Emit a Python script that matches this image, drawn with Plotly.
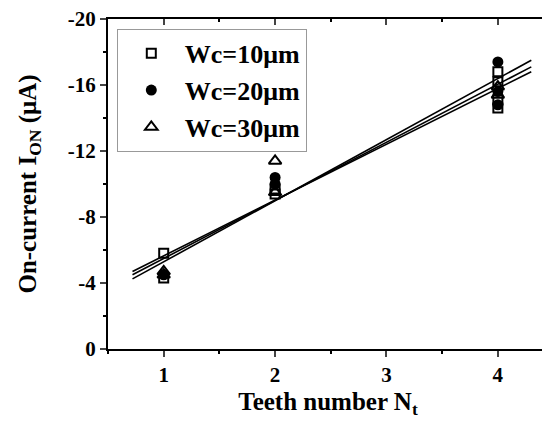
import plotly.graph_objects as go

# ---- data ----
x_ticks = [1, 2, 3, 4]
x_labels = ["1", "2", "3", "4"]
y_ticks = [0, -4, -8, -12, -16, -20]
y_labels = ["0", "-4", "-8", "-12", "-16", "-20"]

wc10_x = [1, 1, 2, 2, 4, 4, 4, 4]
wc10_y = [-5.8, -4.3, -9.7, -9.4, -16.8, -16.2, -15.1, -14.6]

wc20_x = [1, 2, 2, 4, 4, 4]
wc20_y = [-4.5, -10.4, -10.0, -17.4, -15.6, -14.8]

wc30_x = [1, 1, 2, 2, 4, 4]
wc30_y = [-4.7, -4.5, -11.4, -9.5, -15.9, -15.4]

fit_x = [0.72, 4.3]
fit_a = [-4.25, -17.5]
fit_b = [-4.5, -17.1]
fit_c = [-4.7, -16.8]

FONT = "Liberation Serif"

fig = go.Figure()

for fy in (fit_a, fit_b, fit_c):
    fig.add_trace(go.Scatter(x=fit_x, y=fy, mode="lines",
                             line=dict(color="black", width=1.6),
                             showlegend=False, hoverinfo="skip"))

fig.add_trace(go.Scatter(x=wc10_x, y=wc10_y, mode="markers", name="Wc=10μm",
                         legendgroup="a",
                         marker=dict(symbol="square-open", size=9, color="black",
                                     line=dict(width=2, color="black"))))
fig.add_trace(go.Scatter(x=wc20_x, y=wc20_y, mode="markers", name="Wc=20μm",
                         legendgroup="b",
                         marker=dict(symbol="circle", size=11, color="black")))
fig.add_trace(go.Scatter(x=wc30_x, y=wc30_y, mode="markers", name="Wc=30μm",
                         legendgroup="c",
                         marker=dict(symbol="triangle-up-open", size=11, color="black",
                                     line=dict(width=2, color="black"))))

# invisible trace on overlay axes so they render
fig.add_trace(go.Scatter(x=[None], y=[None], xaxis="x2", yaxis="y2",
                         showlegend=False, hoverinfo="skip"))

xr = [0.5, 4.45]
yr = [0, -20]

fig.update_layout(
    width=542, height=424,
    margin=dict(l=100, r=2, t=11, b=83, autoexpand=False),
    paper_bgcolor="white", plot_bgcolor="white",
    font=dict(family=FONT, color="black"),
    showlegend=True,
    legend=dict(x=0.02, y=0.97, xanchor="left", yanchor="top",
                bordercolor="#999999", borderwidth=1, bgcolor="white",
                font=dict(family=FONT, size=26, color="black", weight="bold"),
                itemsizing="trace", tracegroupgap=0, itemwidth=57),
    xaxis=dict(range=xr, tickvals=x_ticks, ticktext=x_labels, ticks="outside",
               ticklen=6, tickwidth=1.5, automargin=False, ticklabeloverflow="allow",
               showline=True, linecolor="black", linewidth=2, showgrid=False, zeroline=False,
               mirror=True,
               tickfont=dict(family=FONT, size=21, weight="bold"),
               minor=dict(dtick=0.5, tick0=0.5, ticks="outside", ticklen=3, tickcolor="black"),
               title=dict(text="Teeth number N<sub>t</sub>", standoff=6,
                          font=dict(family=FONT, size=25, weight="bold"))),
    yaxis=dict(range=yr, tickvals=y_ticks, ticktext=y_labels, ticks="outside",
               ticklen=6, tickwidth=1.5, automargin=False, ticklabeloverflow="allow",
               showline=True, linecolor="black", linewidth=2, showgrid=False, zeroline=False,
               mirror=True,
               tickfont=dict(family=FONT, size=21, weight="bold"),
               minor=dict(dtick=2, ticks="outside", ticklen=3, tickcolor="black"),
               title=dict(text="On-current I<sub>ON</sub> (μA)", standoff=24,
                          font=dict(family=FONT, size=25, weight="bold"))),
    xaxis2=dict(range=xr, overlaying="x", side="top", anchor="y2", tickvals=x_ticks,
                ticks="inside", ticklen=6, tickwidth=1.5, showticklabels=False,
                showline=True, automargin=False,
                linecolor="black", linewidth=2, showgrid=False, zeroline=False,
                minor=dict(dtick=0.5, tick0=0.5, ticks="inside", ticklen=3, tickcolor="black")),
    yaxis2=dict(range=yr, overlaying="y", side="right", anchor="x2", tickvals=y_ticks,
                ticks="inside", ticklen=6, tickwidth=1.5, showticklabels=False,
                showline=True, automargin=False,
                linecolor="black", linewidth=2, showgrid=False, zeroline=False,
                minor=dict(dtick=2, ticks="inside", ticklen=3, tickcolor="black")),
)

fig.write_html("out.html")
